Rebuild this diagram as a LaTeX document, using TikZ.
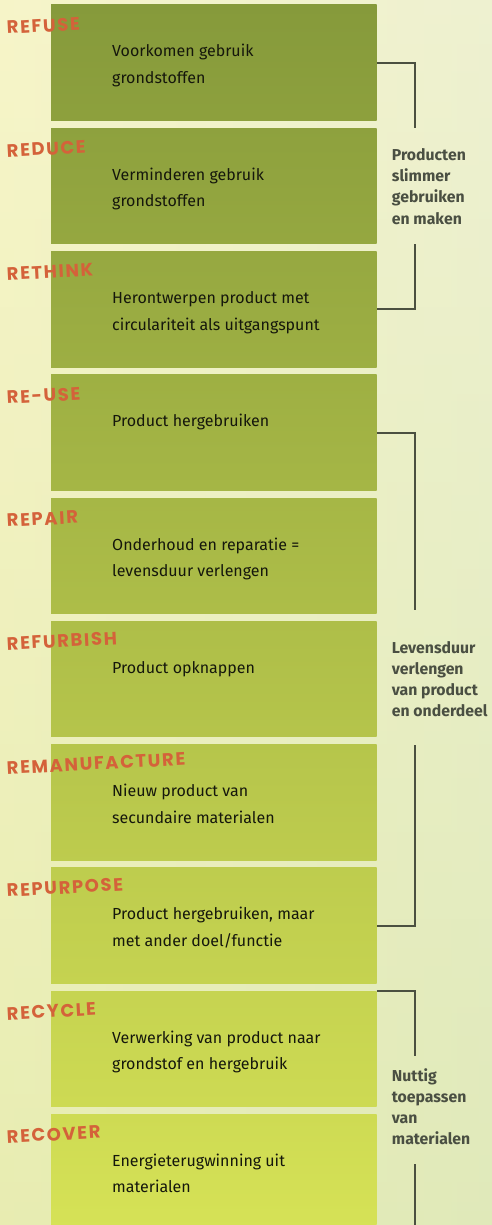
\documentclass[tikz,border=0pt]{standalone}
\usepackage{fontspec}
\setmainfont{Fira Sans}
\newfontfamily\lblfont[LetterSpace=9]{Poppins}
\definecolor{boxA}{HTML}{869A3B}
\definecolor{boxB}{HTML}{D6E256}
\definecolor{lblc}{HTML}{D4623A}
\definecolor{bodyc}{HTML}{15170C}
\definecolor{grpc}{HTML}{4A4F42}
\definecolor{brkc}{HTML}{4B5040}
\definecolor{bgTop}{HTML}{F7F6DA}
\definecolor{bgMid}{HTML}{EFF2C4}
\definecolor{bgBot}{HTML}{DDE8B0}
\definecolor{bgL}{HTML}{F6F3B4}
\definecolor{bgR}{HTML}{E4ECC6}
\tikzset{
  boxst/.style={minimum width=325.7pt, minimum height=115.5pt, anchor=north west, inner sep=0pt, outer sep=0pt},
  lbl/.style={anchor=base west, rotate=3, inner sep=0pt, text=lblc, font=\lblfont\bfseries\fontsize{18}{20}\selectfont},
  body/.style={anchor=base west, inner sep=0pt, align=left, text=bodyc, font=\fontsize{16}{26.5}\selectfont},
  grp/.style={anchor=base west, inner sep=0pt, align=left, text=grpc, font=\bfseries\fontsize{15.8}{21.2}\selectfont},
  brk/.style={draw=brkc, line width=2pt},
}
\begin{document}
\begin{tikzpicture}[x=1pt,y=-1pt]
\useasboundingbox (0,0) rectangle (492,1225);
\shade[top color=bgTop, middle color=bgMid, bottom color=bgBot] (0,0) rectangle (492,1225);
\shade[left color=bgL, right color=bgR, fill opacity=0.45] (0,0) rectangle (492,1225);
% boxes
\node[boxst, top color=boxB!0!boxA,  bottom color=boxB!9!boxA]  (b1)  at (51,5) {};
\node[boxst, top color=boxB!10!boxA, bottom color=boxB!19!boxA] (b2)  at (51,128.25) {};
\node[boxst, top color=boxB!20!boxA, bottom color=boxB!29!boxA] (b3)  at (51,251.5) {};
\node[boxst, top color=boxB!30!boxA, bottom color=boxB!39!boxA] (b4)  at (51,374.75) {};
\node[boxst, top color=boxB!40!boxA, bottom color=boxB!49!boxA] (b5)  at (51,498) {};
\node[boxst, top color=boxB!50!boxA, bottom color=boxB!59!boxA] (b6)  at (51,621.25) {};
\node[boxst, top color=boxB!60!boxA, bottom color=boxB!69!boxA] (b7)  at (51,744.5) {};
\node[boxst, top color=boxB!70!boxA, bottom color=boxB!79!boxA] (b8)  at (51,867.75) {};
\node[boxst, top color=boxB!80!boxA, bottom color=boxB!89!boxA] (b9)  at (51,991) {};
\node[boxst, top color=boxB!90!boxA, bottom color=boxB!100!boxA] (b10) at (51,1114.25) {};
% labels
\node[lbl] (l1)  at (7,34)     {REFUSE};
\node[lbl] (l2)  at (7,157.25) {REDUCE};
\node[lbl] (l3)  at (7,280.5)  {RETHINK};
\node[lbl] (l4)  at (7,403.75) {RE-USE};
\node[lbl] (l5)  at (7,527)    {REPAIR};
\node[lbl] (l6)  at (7,650.25) {REFURBISH};
\node[lbl] (l7)  at (7,774.5)  {REMANUFACTURE};
\node[lbl] (l8)  at (7,896.75) {REPURPOSE};
\node[lbl] (l9)  at (7,1020)   {RECYCLE};
\node[lbl] (l10) at (7,1143.25){RECOVER};
% texts (base anchor = last line)
\node[body] (t1)  at (112,83.5)    {Voorkomen gebruik\\grondstoffen};
\node[body] (t2)  at (112,206.75)  {Verminderen gebruik\\grondstoffen};
\node[body] (t3)  at (112,330)     {Herontwerpen product met\\circulariteit als uitgangspunt};
\node[body] (t4)  at (112,426.75)  {Product hergebruiken};
\node[body] (t5)  at (112,576.5)   {Onderhoud en reparatie =\\levensduur verlengen};
\node[body] (t6)  at (112,673.25)  {Product opknappen};
\node[body] (t7)  at (112,823)     {Nieuw product van\\secundaire materialen};
\node[body] (t8)  at (112,946.25)  {Product hergebruiken, maar\\met ander doel/functie};
\node[body] (t9)  at (112,1069.5)  {Verwerking van product naar\\grondstof en hergebruik};
\node[body] (t10) at (112,1192.75) {Energieterugwinning uit\\materialen};
% group labels
\node[grp] (g1) at (391.7,224.1) {Producten\\slimmer\\gebruiken\\en maken};
\node[grp] (g2) at (391.7,716.6) {Levensduur\\verlengen\\van product\\en onderdeel};
\node[grp] (g3) at (391.7,1144.6) {Nuttig\\toepassen\\van\\materialen};
% bracket ends
\coordinate (g1a) at (415,128);
\coordinate (g1b) at (415,244);
\coordinate (g2a) at (415,610);
\coordinate (g2b) at (415,745);
\coordinate (g3a) at (415,1056);
\coordinate (g3b) at (415,1164);
\coordinate (g3c) at (415,1226);
\coordinate (b9t) at (376.7,991);
% brackets
\draw[brk] (b1.east) -| (g1a);
\draw[brk] (g1b) |- (b3.east);
\draw[brk] (b4.east) -| (g2a);
\draw[brk] (g2b) |- (b8.east);
\draw[brk] (b9t) -| (g3a);
\draw[brk] (g3b) -- (g3c);
\end{tikzpicture}
\end{document}
